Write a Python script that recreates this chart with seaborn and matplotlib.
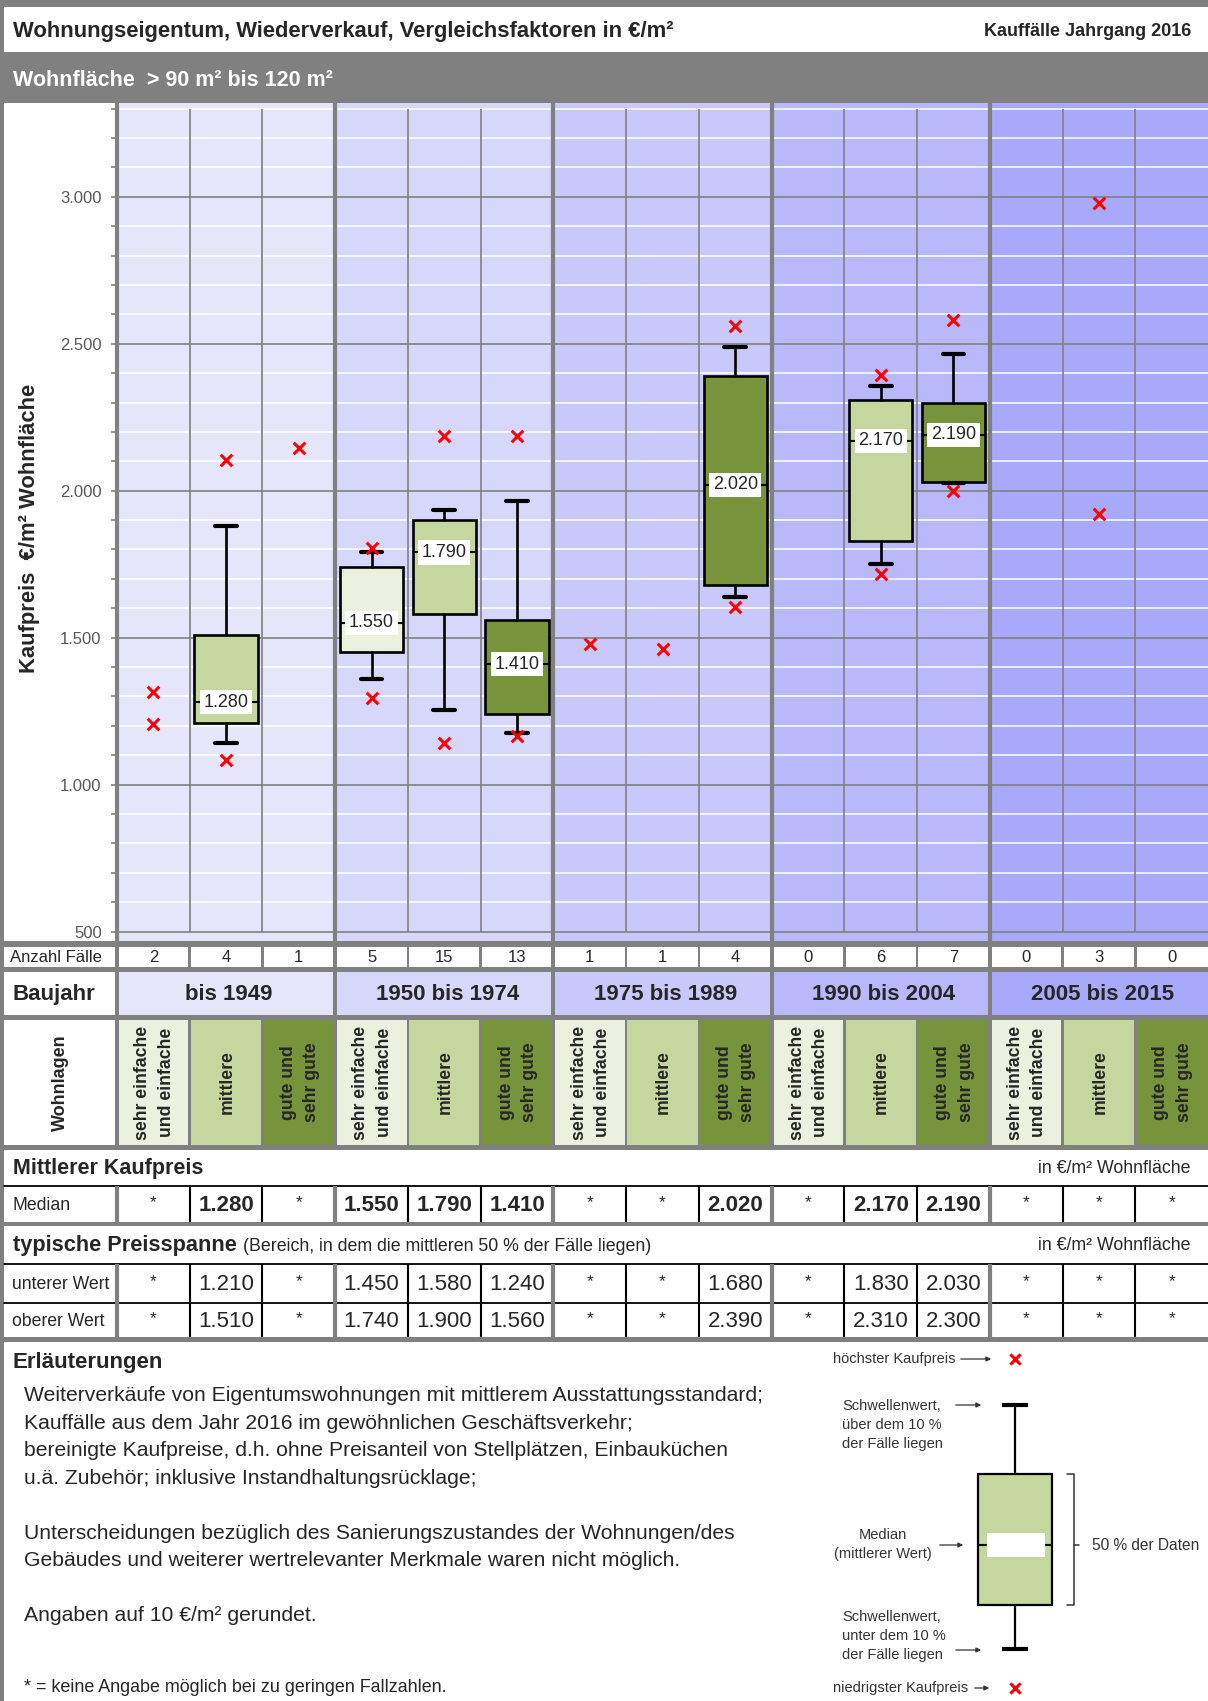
import matplotlib
matplotlib.use("Agg")
import matplotlib.pyplot as plt
from matplotlib.patches import Rectangle
import seaborn as sns
import pandas as pd

# ---------------- data ----------------
title = "Wohnungseigentum, Wiederverkauf, Vergleichsfaktoren in €/m²"
title_right = "Kauffälle Jahrgang 2016"
subtitle = "Wohnfläche  > 90 m² bis 120 m²"
y_label = "Kaufpreis  €/m² Wohnfläche"
baujahr_groups = ["bis 1949", "1950 bis 1974", "1975 bis 1989", "1990 bis 2004", "2005 bis 2015"]
wohnlagen = ["sehr einfache\nund einfache", "mittlere", "gute und\nsehr gute"]
anzahl = [2, 4, 1, 5, 15, 13, 1, 1, 4, 0, 6, 7, 0, 3, 0]
median = [None, 1280, None, 1550, 1790, 1410, None, None, 2020, None, 2170, 2190, None, None, None]
q_low = [None, 1210, None, 1450, 1580, 1240, None, None, 1680, None, 1830, 2030, None, None, None]
q_high = [None, 1510, None, 1740, 1900, 1560, None, None, 2390, None, 2310, 2300, None, None, None]
whisker_low = [None, 1140, None, 1360, 1255, 1175, None, None, 1640, None, 1750, 2025, None, None, None]
whisker_high = [None, 1880, None, 1790, 1935, 1965, None, None, 2490, None, 2355, 2465, None, None, None]
price_max = [1315, 2105, 2145, 1805, 2185, 2185, 1480, 1460, 2560, None, 2395, 2580, None, 2980, None]
price_min = [1205, 1085, None, 1295, 1140, 1165, None, None, 1605, None, 1715, 2000, None, 1920, None]
y_ticks = [500, 1000, 1500, 2000, 2500, 3000]
notes = [
    "Weiterverkäufe von Eigentumswohnungen mit mittlerem Ausstattungsstandard;",
    "Kauffälle aus dem Jahr 2016 im gewöhnlichen Geschäftsverkehr;",
    "bereinigte Kaufpreise, d.h. ohne Preisanteil von Stellplätzen, Einbauküchen",
    "u.ä. Zubehör; inklusive Instandhaltungsrücklage;",
    "",
    "Unterscheidungen bezüglich des Sanierungszustandes der Wohnungen/des",
    "Gebäudes und weiterer wertrelevanter Merkmale waren nicht möglich.",
    "",
    "Angaben auf 10 €/m² gerundet.",
]
footnote = "* = keine Angabe möglich bei zu geringen Fallzahlen."

# ---------------- style ----------------
sns.set_style("white")
plt.rcParams["font.family"] = ["Liberation Sans", "DejaVu Sans"]

GRAY = "#808080"
group_colors = ["#E6E6FB", "#D7D7FB", "#C8C8FB", "#B8B8FB", "#A9A9FB"]
lage_colors = ["#ECF0DF", "#C5D79E", "#77933C"]


def fmt(v):
    return f"{v:,}".replace(",", ".")


W, H = 1208, 1701
fig = plt.figure(figsize=(W / 100, H / 100), dpi=100)
bg = fig.add_axes([0, 0, 1, 1])
bg.set_xlim(0, W)
bg.set_ylim(H, 0)
bg.axis("off")


def rect(x0, y0, x1, y1, fc, ec="none", lw=0, z=1):
    bg.add_patch(Rectangle((x0, y0), x1 - x0, y1 - y0, fc=fc, ec=ec, lw=lw, zorder=z))


X0 = 117
NC = 15
CW = (W - X0) / NC
PT, PB = 103, 941


def col_center(i):
    return X0 + (i + 0.5) * CW


def bw(i):
    if i >= NC:
        return 0
    return 4 if i % 3 == 0 else 2.5


def cell_x(i):
    return X0 + i * CW + bw(i) / 2, X0 + (i + 1) * CW - bw(i + 1) / 2


# ---------------- frame / header ----------------
rect(0, 0, W, H, "white", z=0)
rect(0, 0, W, 7, GRAY)
rect(0, 0, 4, H, GRAY)
rect(4, 52, W, PT, GRAY)
rect(0, PB, W, 1342, GRAY)
bg.text(13, 31, title, fontsize=15.8, fontweight="bold", va="center", ha="left")
bg.text(1191, 32, title_right, fontsize=13, fontweight="bold", va="center", ha="right")
bg.text(13, 80, subtitle, fontsize=15.5, fontweight="bold", color="white", va="center", ha="left")
bg.text(30, 528, y_label, fontsize=15.8, fontweight="bold", rotation=90, va="center", ha="center")

# ---------------- plot ----------------
ax = fig.add_axes([X0 / W, 1 - PB / H, (W - X0) / W, (PB - PT) / H])
ax.set_facecolor("white")
for g in range(5):
    ax.axvspan(3 * g - 0.5, 3 * g + 2.5, color=group_colors[g], lw=0, zorder=0)
for v in range(500, 3301, 100):
    if v % 500:
        ax.axhline(v, color="white", lw=1.1, zorder=1)
    else:
        ax.axhline(v, color=GRAY, lw=1.2, zorder=1.5)
thin = [i + 0.5 for i in range(NC - 1) if (i + 1) % 3]
ax.vlines(thin, 500, 3300, color=GRAY, lw=1.2, zorder=2)
for xg in [2.5, 5.5, 8.5, 11.5]:
    ax.axvline(xg, color=GRAY, lw=3, zorder=2)

pos = [i for i in range(NC) if median[i] is not None]
stats = [dict(med=median[i], q1=q_low[i], q3=q_high[i], whislo=whisker_low[i],
              whishi=whisker_high[i], fliers=[]) for i in pos]
bp = ax.bxp(stats, positions=pos, widths=0.87, patch_artist=True, showfliers=False,
            capwidths=0.3, manage_ticks=False,
            boxprops=dict(lw=1.9, edgecolor="black"),
            whiskerprops=dict(lw=1.9, color="black"),
            capprops=dict(lw=3, color="black"),
            medianprops=dict(color="black", lw=1.5))
for patch, i in zip(bp["boxes"], pos):
    patch.set_facecolor(lage_colors[i % 3])
    patch.set_zorder(4)
for k in ("whiskers", "caps", "medians"):
    for a in bp[k]:
        a.set_zorder(4)
for i in pos:
    ax.text(i, median[i], fmt(median[i]), ha="center", va="center", fontsize=13, zorder=6,
            bbox=dict(boxstyle="square,pad=0.2", fc="white", ec="none"))

ext_pos, ext_val = [], []
for i in range(NC):
    for v in (price_max[i], price_min[i]):
        if v is not None:
            ext_pos.append(i)
            ext_val.append(v)
df_ext = pd.DataFrame({"pos": ext_pos, "value": ext_val})
sns.scatterplot(data=df_ext, x="pos", y="value", ax=ax, marker="x", color="red",
                s=70, linewidth=2.2, zorder=7, legend=False)

ax.set_xlim(-0.5, NC - 0.5)
ax.set_ylim(468, 3319)
ax.set_xlabel("")
ax.set_ylabel("")
ax.set_xticks([])
ax.set_yticks(y_ticks)
ax.set_yticklabels([fmt(v) for v in y_ticks])
ax.set_yticks(range(500, 3301, 100), minor=True)
ax.tick_params(axis="y", which="major", length=4, width=1.2, color=GRAY,
               labelcolor="#595959", labelsize=12, pad=7, left=True)
ax.tick_params(axis="y", which="minor", length=4, width=1.2, color=GRAY, left=True)
for s in ("top", "right", "bottom"):
    ax.spines[s].set_visible(False)
ax.spines["left"].set_color(GRAY)
ax.spines["left"].set_linewidth(3)
rect(4, PT, X0 - 2, PB, "white")

# ---------------- table rows ----------------
# Anzahl Fälle
ya0, ya1 = 947, 967
rect(4, ya0, X0 - 2, ya1, "white")
bg.text(10, (ya0 + ya1) / 2, "Anzahl Fälle", fontsize=12, va="center", ha="left")
for i in range(NC):
    x0, x1 = cell_x(i)
    rect(x0, ya0, x1, ya1, "white")
    bg.text(col_center(i), (ya0 + ya1) / 2 + 0.5, str(anzahl[i]), fontsize=12, va="center", ha="center")

# Baujahr
yb0, yb1 = 972, 1015
rect(4, yb0, X0 - 2, yb1, "white")
bg.text(13, (yb0 + yb1) / 2 + 1, "Baujahr", fontsize=16, fontweight="bold", va="center", ha="left")
for g in range(5):
    x0 = cell_x(3 * g)[0]
    x1 = cell_x(3 * g + 2)[1]
    rect(x0, yb0, x1, yb1, group_colors[g])
    bg.text((x0 + x1) / 2 + 3, (yb0 + yb1) / 2 + 1, baujahr_groups[g], fontsize=16, fontweight="bold",
            va="center", ha="center")

# Wohnlagen
yw0, yw1 = 1020, 1145
rect(4, yw0, X0 - 2, yw1, "white")
bg.text(60, (yw0 + yw1) / 2, "Wohnlagen", fontsize=13, fontweight="bold", rotation=90,
        va="center", ha="center")
for i in range(NC):
    x0, x1 = cell_x(i)
    rect(x0, yw0, x1, yw1, lage_colors[i % 3])
    bg.text(col_center(i) + 1, (yw0 + yw1) / 2, wohnlagen[i % 3], fontsize=12.7, fontweight="bold",
            rotation=90, va="center", ha="center", multialignment="center", linespacing=1.5)

# Mittlerer Kaufpreis + Median
rect(4, 1150, W, 1222, "white")
bg.text(13, 1168, "Mittlerer Kaufpreis", fontsize=15.5, fontweight="bold", va="center", ha="left")
bg.text(1191, 1168, "in €/m² Wohnfläche", fontsize=12.8, va="center", ha="right")
bg.plot([4, W], [1186, 1186], color="black", lw=1.3, zorder=3)
ym0, ym1 = 1186, 1222
bg.text(12, (ym0 + ym1) / 2 + 1, "Median", fontsize=12.7, va="center", ha="left")
for i in range(NC):
    v = median[i]
    if v is None:
        bg.text(col_center(i), (ym0 + ym1) / 2 - 1, "*", fontsize=12.5, va="center", ha="center")
    else:
        bg.text(col_center(i), (ym0 + ym1) / 2 + 1, fmt(v), fontsize=16, fontweight="bold",
                va="center", ha="center")

# typische Preisspanne + unterer/oberer
rect(4, 1226, W, 1337, "white")
t1 = bg.text(13, 1251, "typische Preisspanne", fontsize=15.7, fontweight="bold", va="baseline", ha="left")
bg.text(1191, 1245, "in €/m² Wohnfläche", fontsize=12.8, va="center", ha="right")
bg.plot([4, W], [1263.5, 1263.5], color="black", lw=1.3, zorder=3)
bg.plot([4, W], [1302.5, 1302.5], color="black", lw=1.3, zorder=3)
rows = [("unterer Wert", q_low, 1264, 1302), ("oberer Wert", q_high, 1303, 1337)]
for lab, vals, r0, r1 in rows:
    bg.text(12, (r0 + r1) / 2 + 1, lab, fontsize=12.7, va="center", ha="left")
    for i in range(NC):
        v = vals[i]
        if v is None:
            bg.text(col_center(i), (r0 + r1) / 2 - 1, "*", fontsize=12.5, va="center", ha="center")
        else:
            bg.text(col_center(i), (r0 + r1) / 2 + 1, fmt(v), fontsize=16, va="center", ha="center")

# vertical separators in value rows
for (r0, r1) in [(1186, 1222), (1263.5, 1337)]:
    for i in range(NC):
        xb = X0 + i * CW
        if i % 3 == 0:
            bg.plot([xb, xb], [r0, r1], color=GRAY, lw=3, zorder=3, solid_capstyle="butt")
        else:
            bg.plot([xb, xb], [r0, r1], color="black", lw=1.5, zorder=3, solid_capstyle="butt")

# ---------------- Erläuterungen ----------------
bg.text(13, 1362, "Erläuterungen", fontsize=16, fontweight="bold", va="center", ha="left")
for k, line in enumerate(notes):
    if line:
        bg.text(24, 1395.5 + k * 27.5, line, fontsize=15.2, va="center", ha="left")
bg.text(24, 1687, footnote, fontsize=12.9, va="center", ha="left")

# legend diagram
LC = "#333333"
lx = 1015
rect(978, 1474, 1052, 1605, "#C5D79E", ec="black", lw=1.6, z=3)
bg.plot([lx, lx], [1405, 1474], color="black", lw=1.6, zorder=3)
bg.plot([lx, lx], [1605, 1649], color="black", lw=1.6, zorder=3)
bg.plot([1002, 1028], [1405, 1405], color="black", lw=3, zorder=3, solid_capstyle="butt")
bg.plot([1002, 1028], [1649, 1649], color="black", lw=3, zorder=3, solid_capstyle="butt")
rect(987, 1533, 1045, 1557, "white", z=4)
bg.plot([979, 986], [1545, 1545], color="black", lw=1.5, zorder=4)
bg.plot([1046, 1051], [1545, 1545], color="black", lw=1.5, zorder=4)
bg.scatter([lx, lx], [1359, 1688], marker="x", color="red", s=55, linewidths=2.2, zorder=5)
bg.plot([1067, 1074, 1074, 1067], [1474, 1474, 1605, 1605], color=LC, lw=1.1, zorder=3)
bg.plot([1074, 1079], [1545, 1545], color=LC, lw=1.1, zorder=3)
bg.text(1092, 1545, "50 % der Daten", fontsize=11.2, color=LC, va="center", ha="left")
arrow = dict(arrowstyle="-|>", color=LC, lw=0.9, mutation_scale=7)
bg.text(833, 1359, "höchster Kaufpreis", fontsize=10.5, color=LC, va="center", ha="left")
bg.annotate("", xy=(994, 1359), xytext=(958, 1359), arrowprops=arrow)
for k, s in enumerate(["Schwellenwert,", "über dem 10 %", "der Fälle liegen"]):
    bg.text(842, 1406 + k * 19, s, fontsize=10.5, color=LC, va="center", ha="left")
bg.annotate("", xy=(984, 1405), xytext=(953, 1405), arrowprops=arrow)
bg.text(883, 1535, "Median", fontsize=10.5, color=LC, va="center", ha="center")
bg.text(883, 1554, "(mittlerer Wert)", fontsize=10.5, color=LC, va="center", ha="center")
bg.annotate("", xy=(966, 1545), xytext=(937, 1545), arrowprops=arrow)
for k, s in enumerate(["Schwellenwert,", "unter dem 10 %", "der Fälle liegen"]):
    bg.text(842, 1617 + k * 19, s, fontsize=10.5, color=LC, va="center", ha="left")
bg.annotate("", xy=(984, 1650), xytext=(953, 1650), arrowprops=arrow)
bg.text(833, 1688, "niedrigster Kaufpreis", fontsize=10.5, color=LC, va="center", ha="left")
bg.annotate("", xy=(992, 1688), xytext=(972, 1688), arrowprops=arrow)

# second part of the "typische Preisspanne" heading
fig.canvas.draw()
bb = t1.get_window_extent(renderer=fig.canvas.get_renderer())
x_after = bg.transData.inverted().transform((bb.x1, bb.y0))[0]
bg.text(x_after + 6, 1251, "(Bereich, in dem die mittleren 50 % der Fälle liegen)", fontsize=12.8,
        va="baseline", ha="left")

fig.savefig("out.png", dpi=100)
